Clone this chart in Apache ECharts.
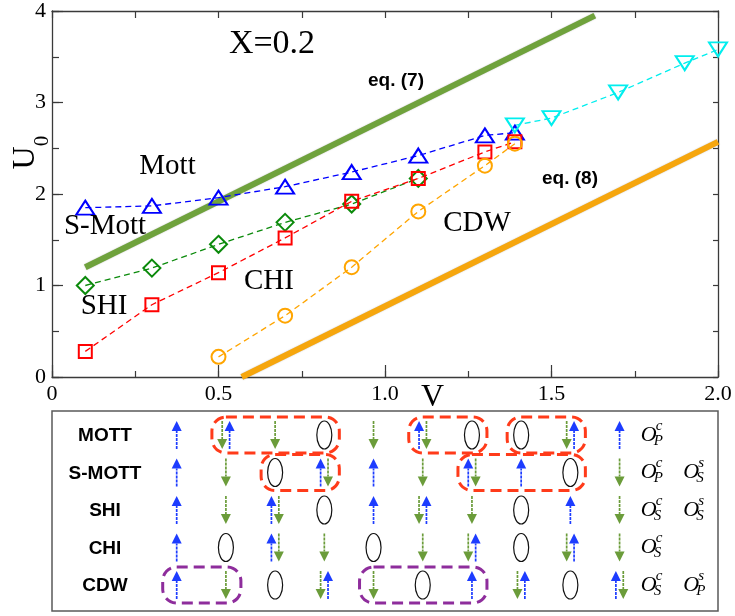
<!DOCTYPE html>
<html><head><meta charset="utf-8">
<script src="https://cdn.jsdelivr.net/npm/echarts@6/dist/echarts.min.js"></script>
<style>html,body{margin:0;padding:0;background:#fff}#c{width:735px;height:616px}</style>
</head><body><div id="c"></div>
<script>
// ---------------- Data ----------------
// Phase boundaries, X = 0.2
const mottV  = [0.1, 0.3, 0.5, 0.7, 0.9, 1.1, 1.3, 1.39];           // Mott / S-Mott (blue triangles)
const mottU  = [1.85, 1.87, 1.96, 2.08, 2.24, 2.42, 2.64, 2.67];
const smottV = [0.1, 0.3, 0.5, 0.7, 0.9, 1.1];                       // S-Mott / SHI (green diamonds)
const smottU = [1.0, 1.19, 1.45, 1.69, 1.89, 2.17];
const shiV   = [0.1, 0.3, 0.5, 0.7, 0.9, 1.1, 1.3, 1.39];           // SHI / CHI (red squares)
const shiU   = [0.28, 0.79, 1.14, 1.52, 1.92, 2.17, 2.46, 2.57];
const chiV   = [0.5, 0.7, 0.9, 1.1, 1.3, 1.39];                       // CHI / CDW (orange circles)
const chiU   = [0.22, 0.67, 1.2, 1.81, 2.31, 2.55];
const cdwV   = [1.39, 1.5, 1.7, 1.9, 2.0];                            // Mott / CDW (cyan down triangles)
const cdwU   = [2.75, 2.83, 3.11, 3.43, 3.58];
const eq7V   = [0.1, 1.63];                                           // eq. (7)
const eq7U   = [1.2, 3.95];
const eq8V   = [0.57, 2.0];                                           // eq. (8)
const eq8U   = [0.0, 2.57];

const xTickLabels = ['0', '0.5', '1.0', '1.5', '2.0'];
const yTickLabels = ['0', '1', '2', '3', '4'];
const phaseLabels = ['X=0.2', 'Mott', 'S-Mott', 'SHI', 'CHI', 'CDW', 'eq. (7)', 'eq. (8)'];

// Lower schematic: u = up spin, d = down spin, ud / du = doubly occupied, o = empty
const rowNames = ['MOTT', 'S-MOTT', 'SHI', 'CHI', 'CDW'];
const siteRows = [
  ['u','du','d','o','d','ud','o','o','du','u'],
  ['u','d','o','ud','u','d','ud','u','o','d'],
  ['u','d','ud','o','u','du','d','o','u','d'],
  ['u','o','ud','d','o','d','du','o','du','d'],
  ['u','d','o','du','d','o','u','du','o','ud']
];
// [row, fromSite, toSite]
const redBoxes    = [[0,1,3],[0,5,6],[0,7,8],[1,2,3],[1,6,8]];
const purpleBoxes = [[4,0,1],[4,4,6]];
// order parameters per row: [superscript, subscript]
const orderParams = [
  [['c','P']],
  [['c','P'],['s','S']],
  [['c','S'],['s','S']],
  [['c','S']],
  [['c','S'],['s','P']]
];

// ---------------- Chart ----------------
const SERIF = '"Liberation Serif", "DejaVu Serif", serif';
const SANS = '"Liberation Sans", Arial, sans-serif';
const AX = '#3a3a3a';
const zip = (a, b) => a.map((v, i) => [v, b[i]]);

const cellData = [];
siteRows.forEach((row, r) => row.forEach((code, c) => cellData.push([c, r, code])));
const boxData = redBoxes.map(b => [b[1], b[0], b[2], 0]).concat(purpleBoxes.map(b => [b[1], b[0], b[2], 1]));
const rowData = rowNames.map((n, i) => [0, i]);

const BLUE_A = '#1d3cff', GREEN_A = '#6b9c3a';

function arrow(cx, cy, up, color) {
  const L = 14, hh = 10, hw = 5;
  const tipY = up ? cy - L : cy + L;
  const baseY = up ? tipY + hh : tipY - hh;
  const tailY = up ? cy + L : cy - L;
  return [
    {type: 'line', shape: {x1: cx, y1: tailY, x2: cx, y2: baseY},
     style: {stroke: color, lineWidth: 1.7, lineDash: [3, 1]}},
    {type: 'polygon', shape: {points: [[cx, tipY], [cx - hw, baseY], [cx + hw, baseY]]},
     style: {fill: color}}
  ];
}

function lineSeries(name, xs, ys, color, symbol, size, rotate) {
  return {
    type: 'line', name, data: zip(xs, ys), xAxisIndex: 0, yAxisIndex: 0,
    symbol, symbolSize: size, symbolRotate: rotate || 0, clip: false,
    lineStyle: {color, width: 1.3, type: [6, 4]},
    itemStyle: {color: 'rgba(0,0,0,0)', borderColor: color, borderWidth: 2},
    z: 3
  };
}

function thickLine(name, xs, ys, color) {
  return {
    type: 'line', name, data: zip(xs, ys), xAxisIndex: 0, yAxisIndex: 0,
    symbol: 'none', clip: false,
    lineStyle: {color, width: 6, shadowColor: 'rgba(0,0,0,0.25)', shadowBlur: 1.5},
    z: 2
  };
}

function frameAxis(gridIndex, position, min, max, interval, len, showLine) {
  return {gridIndex, type: 'value', min, max, interval, position,
    axisLine: {show: showLine, onZero: false, lineStyle: {color: AX, width: 1.3}},
    axisTick: {show: true, inside: true, length: len, lineStyle: {color: AX, width: 1.2}},
    splitLine: {show: false}, axisLabel: {show: false}};
}

const chart = echarts.init(document.getElementById('c'), null, {renderer: 'canvas'});

const tickFmtX = v => { const i = Math.round(v / 0.5); return Math.abs(v - i * 0.5) < 1e-6 ? xTickLabels[i] : ''; };
const tickFmtY = v => { const i = Math.round(v); return Math.abs(v - i) < 1e-6 ? yTickLabels[i] : ''; };

const option = {
  animation: false,
  backgroundColor: '#fff',
  grid: [
    {left: 52, right: 17, top: 7, bottom: 239, show: false},
    {left: 52, right: 17, top: 411, bottom: 5, show: true, borderColor: '#5a5a5a', borderWidth: 1.5, backgroundColor: 'transparent'}
  ],
  xAxis: [
    {gridIndex: 0, type: 'value', min: 0, max: 2, interval: 0.5, position: 'bottom',
     axisLine: {onZero: false, lineStyle: {color: AX, width: 1.3}},
     axisTick: {inside: true, length: 12, lineStyle: {color: AX, width: 1.2}},
     splitLine: {show: false},
     axisLabel: {formatter: tickFmtX, color: '#000', fontFamily: SERIF, fontSize: 22, margin: 6}},
    frameAxis(0, 'top', 0, 2, 0.25, 7, true),
    {gridIndex: 1, type: 'value', min: -2.534, max: 11.0, show: false, axisLine: {onZero: false}},
    frameAxis(0, 'bottom', 0, 2, 0.25, 6, false)
  ],
  yAxis: [
    {gridIndex: 0, type: 'value', min: 0, max: 4, interval: 1, position: 'left',
     axisLine: {onZero: false, lineStyle: {color: AX, width: 1.3}},
     axisTick: {inside: true, length: 11, lineStyle: {color: AX, width: 1.2}},
     splitLine: {show: false},
     axisLabel: {formatter: tickFmtY, color: '#000', fontFamily: SERIF, fontSize: 22, margin: 6}},
    frameAxis(0, 'right', 0, 4, 0.5, 5, true),
    {gridIndex: 1, type: 'value', min: -0.64, max: 4.693, inverse: true, show: false, axisLine: {onZero: false}},
    frameAxis(0, 'left', 0, 4, 0.5, 7, false)
  ],
  graphic: [
    {type: 'text', x: 25.5, y: 158, rotation: Math.PI / 2,
     style: {text: 'U', font: '32px ' + SERIF, fill: '#000', align: 'center', verticalAlign: 'middle', textAlign: 'center', textVerticalAlign: 'middle'}},
    {type: 'text', x: 42.5, y: 141, rotation: Math.PI / 2,
     style: {text: '0', font: '21px ' + SERIF, fill: '#000', align: 'center', verticalAlign: 'middle', textAlign: 'center', textVerticalAlign: 'middle'}},
    {type: 'text', x: 432.5, y: 398,
     style: {text: 'V', font: '32px ' + SERIF, fill: '#000', align: 'center', verticalAlign: 'middle', textAlign: 'center', textVerticalAlign: 'middle'}}
  ],
  series: [
    thickLine('eq. (7)', eq7V, eq7U, '#6fa23c'),
    thickLine('eq. (8)', eq8V, eq8U, '#f6a60d'),
    lineSeries('Mott/S-Mott', mottV, mottU, '#0000ff', 'triangle', [18, 14]),
    lineSeries('S-Mott/SHI', smottV, smottU, '#0b8a0b', 'diamond', [17, 17]),
    lineSeries('SHI/CHI', shiV, shiU, '#ff0000', 'rect', [13, 13]),
    lineSeries('CHI/CDW', chiV, chiU, '#ffa500', 'circle', [14, 14]),
    lineSeries('Mott/CDW', cdwV, cdwU, '#00eeee', 'triangle', [18, 14], 180),
    // text annotations of the upper plot
    {
      type: 'custom', xAxisIndex: 0, yAxisIndex: 0, clip: false, z: 5,
      data: phaseLabels.map((t, i) => [i]),
      renderItem: (params, api) => {
        const pos = [[272, 44], [167.5, 166], [105, 226], [104, 306], [269, 281], [477, 223], [396, 81], [570, 179]][params.dataIndex];
        const t = phaseLabels[params.dataIndex];
        const bold = t.indexOf('eq.') === 0;
        const size = params.dataIndex === 0 ? 34 : (bold ? 19 : 29);
        return {type: 'text', x: pos[0], y: pos[1],
          style: {text: t, font: (bold ? 'bold ' : '') + size + 'px ' + (bold ? SANS : SERIF), fill: '#000',
                  align: 'center', verticalAlign: 'middle'}};
      }
    },
    // schematic: dashed boxes
    {
      type: 'custom', xAxisIndex: 2, yAxisIndex: 2, clip: false, z: 4,
      data: boxData,
      renderItem: (params, api) => {
        const d = boxData[params.dataIndex];
        const p1 = api.coord([d[0], d[1]]);
        const p2 = api.coord([d[2], d[1]]);
        return {type: 'rect',
          shape: {x: p1[0] - 14, y: p1[1] - 18, width: p2[0] - p1[0] + 29, height: 36, r: 14},
          style: {fill: 'none', stroke: d[3] === 0 ? '#ff3b1a' : '#8e2d9c', lineWidth: 3, lineDash: [11, 6]}};
      }
    },
    // schematic: sites
    {
      type: 'custom', xAxisIndex: 2, yAxisIndex: 2, clip: false, z: 3,
      data: cellData.map(d => [d[0], d[1]]),
      renderItem: (params, api) => {
        const d = cellData[params.dataIndex];
        const p = api.coord([d[0], d[1]]);
        const code = d[2];
        let ch = [];
        const off = 3.7;
        if (code === 'u') ch = arrow(p[0], p[1], true, BLUE_A);
        else if (code === 'd') ch = arrow(p[0], p[1], false, GREEN_A);
        else if (code === 'ud') ch = arrow(p[0] - off, p[1], true, BLUE_A).concat(arrow(p[0] + off, p[1], false, GREEN_A));
        else if (code === 'du') ch = arrow(p[0] - off, p[1], false, GREEN_A).concat(arrow(p[0] + off, p[1], true, BLUE_A));
        else if (code === 'o') ch = [{type: 'ellipse', shape: {cx: p[0], cy: p[1], rx: 7.5, ry: 14},
                                       style: {fill: 'none', stroke: '#111', lineWidth: 1.2}}];
        return {type: 'group', children: ch};
      }
    },
    // schematic: row names and order parameters
    {
      type: 'custom', xAxisIndex: 2, yAxisIndex: 2, clip: false, z: 3,
      data: rowData,
      renderItem: (params, api) => {
        const r = params.dataIndex;
        const pl = api.coord([-1.457, r]);
        const ch = [{type: 'text', x: pl[0], y: pl[1] + 1,
          style: {text: rowNames[r], font: 'bold 19px ' + SANS, fill: '#000', align: 'center', verticalAlign: 'middle'}}];
        orderParams[r].forEach((op, k) => {
          const po = api.coord([9.43 + 0.866 * k, r]);
          ch.push({type: 'text', x: po[0], y: po[1],
            style: {text: 'O', font: 'italic 22px ' + SERIF, fill: '#000', align: 'left', verticalAlign: 'middle'}});
          ch.push({type: 'text', x: po[0] + 15, y: po[1] - 9,
            style: {text: op[0], font: 'italic 15px ' + SERIF, fill: '#000', align: 'left', verticalAlign: 'middle'}});
          ch.push({type: 'text', x: po[0] + 13, y: po[1] + 6,
            style: {text: op[1], font: 'italic 15px ' + SERIF, fill: '#000', align: 'left', verticalAlign: 'middle'}});
        });
        return {type: 'group', children: ch};
      }
    }
  ]
};
chart.setOption(option);
</script>
</body></html>
